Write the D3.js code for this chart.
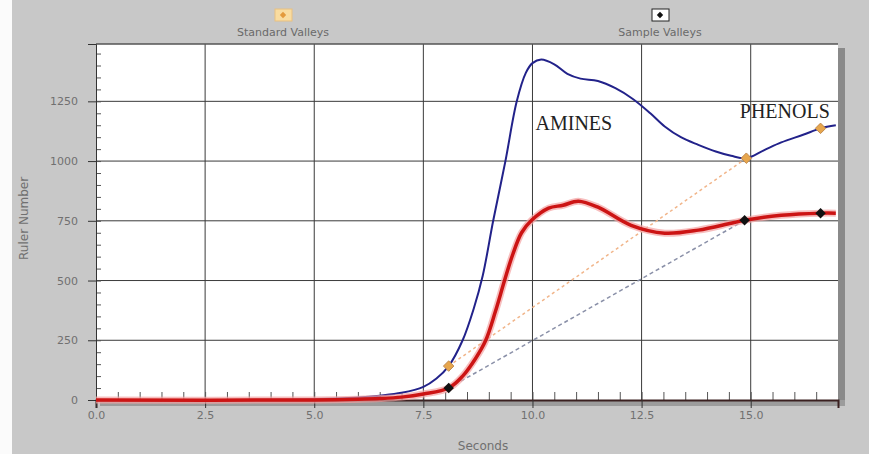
<!DOCTYPE html>
<html>
<head>
<meta charset="utf-8">
<script src="https://cdn.jsdelivr.net/npm/d3@7"></script>
<style>
  body { margin: 0; background: #c8c8c8; }
  svg { display: block; }
</style>
</head>
<body>
<svg class="chart"></svg>
<script>
/*
Two valley traces
*/
var stdSeconds = [0, 2.5, 4.5, 5.5, 6.0, 6.5, 7.0, 7.5, 7.8, 8.08, 8.4, 8.65, 8.86, 9.1, 9.38, 9.64, 9.85, 10.0, 10.2, 10.5, 10.8, 11.1, 11.5, 11.9, 12.3, 12.7, 13.03, 13.4, 13.8, 14.2, 14.55, 14.9, 15.3, 15.7, 16.2, 16.6, 16.95];
var stdValues  = [0, 0, 2, 6, 10, 18, 30, 55, 90, 142, 250, 380, 520, 750, 1000, 1250, 1370, 1410, 1425, 1405, 1365, 1345, 1335, 1305, 1260, 1200, 1145, 1100, 1068, 1040, 1022, 1012, 1045, 1078, 1110, 1137, 1150];

var smpSeconds = [0, 5.0, 6.0, 6.5, 7.0, 7.5, 8.08, 8.4, 8.7, 8.93, 9.15, 9.36, 9.55, 9.75, 9.98, 10.37, 10.7, 11.05, 11.5, 12.26, 13.03, 13.8, 14.55, 14.86, 15.7, 16.6, 16.95];
var smpValues  = [0, 0, 3, 6, 12, 25, 50, 100, 175, 250, 370, 500, 610, 700, 752, 803, 815, 832, 807, 731, 698, 711, 740, 752, 773, 782, 782];

var stdValleySeconds = [8.08, 14.9, 16.6];
var stdValleyValues  = [142, 1012, 1137];
var smpValleySeconds = [8.08, 14.86, 16.6];
var smpValleyValues  = [50, 752, 782];

var xTicks = [0, 2.5, 5, 7.5, 10, 12.5, 15];
var xTickLabels = ["0.0", "2.5", "5.0", "7.5", "10.0", "12.5", "15.0"];
var yTicks = [0, 250, 500, 750, 1000, 1250];

var legendNames = ["Standard Valleys", "Sample Valleys"];
var peakNames = ["AMINES", "PHENOLS"];
var peakSeconds = [10.07, 14.75];
var peakValues = [1129, 1179];

var width = 869, height = 454;
var margin = {top: 44, right: 31, bottom: 54, left: 96};

var chart = d3.select('.chart')
  .attr("width", width)
  .attr("height", height);

var x = d3.scaleLinear()
  .domain([0, 17])
  .range([margin.left, width - margin.right]);

var y = d3.scaleLinear()
  .domain([0, 1490])
  .range([height - margin.bottom, margin.top]);

var plotBottom = height - margin.bottom;
var plotRight = width - margin.right;

// white strip at the far left of the screenshot
chart.append("rect")
  .attr("x", 0).attr("y", 0).attr("width", 12).attr("height", height)
  .attr("fill", "#fbfbfb");

// frame shadow (right + bottom)
chart.append("rect")
  .attr("x", plotRight).attr("y", margin.top + 4)
  .attr("width", 7).attr("height", plotBottom - margin.top + 2)
  .attr("fill", "#8a8a8a");
chart.append("rect")
  .attr("x", margin.left + 4).attr("y", plotBottom)
  .attr("width", plotRight - margin.left + 3).attr("height", 6)
  .attr("fill", "#9c9c9c");

chart.append("rect")
  .attr("x", margin.left).attr("y", margin.top)
  .attr("width", plotRight - margin.left)
  .attr("height", plotBottom - margin.top)
  .attr("fill", "#fff");

// grid
chart.append("g")
  .selectAll("line")
  .data(xTicks.slice(1))
  .enter().append("line")
  .attr("x1", function(d) { return x(d); })
  .attr("x2", function(d) { return x(d); })
  .attr("y1", margin.top)
  .attr("y2", plotBottom)
  .attr("stroke", "#3a3a3a");

chart.append("g")
  .selectAll("line")
  .data(yTicks.slice(1))
  .enter().append("line")
  .attr("x1", margin.left)
  .attr("x2", plotRight)
  .attr("y1", function(d) { return y(d); })
  .attr("y2", function(d) { return y(d); })
  .attr("stroke", "#3a3a3a");

chart.append("line")
  .attr("x1", margin.left).attr("x2", plotRight)
  .attr("y1", margin.top).attr("y2", margin.top)
  .attr("stroke", "#555").attr("stroke-width", 1.5);

// minor ticks, drawn inwards
chart.append("g")
  .attr("transform", "translate(0," + plotBottom + ")")
  .call(d3.axisBottom(x).tickValues(d3.range(0, 17, 0.5)).tickSize(-8).tickFormat(""))
  .call(function(g) {
    g.select(".domain").remove();
    g.selectAll(".tick line").attr("stroke", "#555");
  });

chart.append("g")
  .attr("transform", "translate(" + margin.left + ",0)")
  .call(d3.axisLeft(y).tickValues(d3.range(0, 1490, 50)).tickSize(-5).tickFormat(""))
  .call(function(g) {
    g.select(".domain").remove();
    g.selectAll(".tick line").attr("stroke", "#555");
  });

// main axes
var leftAxis = d3.axisLeft(y).tickValues(yTicks).tickSize(8).tickPadding(10)
  .tickFormat(d3.format("d"));
var bottomAxis = d3.axisBottom(x).tickValues(xTicks).tickSize(8).tickPadding(3)
  .tickFormat(function(d, i) { return xTickLabels[i]; });

chart.append("g")
  .attr("transform", "translate(" + margin.left + ",0)")
  .call(customYAxis);

chart.append("g")
  .attr("transform", "translate(0," + plotBottom + ")")
  .call(customXAxis);

function customYAxis(g) {
  g.call(leftAxis);
  g.select(".domain").attr("stroke", "#333");
  g.selectAll(".tick line").attr("stroke", "#333");
  g.selectAll(".tick text")
    .attr("fill", "#707070")
    .style("font", "11px 'DejaVu Sans'");
}

function customXAxis(g) {
  g.call(bottomAxis);
  g.select(".domain").attr("stroke", "#3a2020").attr("stroke-width", 2);
  g.selectAll(".tick line").attr("stroke", "#333");
  g.selectAll(".tick text")
    .attr("fill", "#707070")
    .style("font", "11px 'DejaVu Sans'");
}

// axis titles
chart.append("text")
  .attr("x", (margin.left + plotRight) / 2 + 16)
  .attr("y", 450)
  .attr("text-anchor", "middle")
  .attr("fill", "#707070")
  .style("font", "12px 'DejaVu Sans'")
  .text("Seconds");

chart.append("text")
  .attr("transform", "translate(28," + y(760) + ") rotate(-90)")
  .attr("text-anchor", "middle")
  .attr("fill", "#707070")
  .style("font", "12px 'DejaVu Sans'")
  .text("Ruler Number");

// valley connectors
chart.append("line")
  .attr("x1", x(stdValleySeconds[0])).attr("y1", y(stdValleyValues[0]))
  .attr("x2", x(stdValleySeconds[1])).attr("y2", y(stdValleyValues[1]))
  .attr("stroke", "#f1b58a").attr("stroke-width", 1.5)
  .attr("stroke-dasharray", "3,3");

chart.append("line")
  .attr("x1", x(smpValleySeconds[0])).attr("y1", y(smpValleyValues[0]))
  .attr("x2", x(smpValleySeconds[1])).attr("y2", y(smpValleyValues[1]))
  .attr("stroke", "#8a90a8").attr("stroke-width", 1.5)
  .attr("stroke-dasharray", "4,3");

var line = d3.line()
  .x(function(d) { return x(d[0]); })
  .y(function(d) { return y(d[1]); })
  .curve(d3.curveCatmullRom.alpha(0.5));

var stdData = d3.zip(stdSeconds, stdValues);
var smpData = d3.zip(smpSeconds, smpValues);

chart.append("path")
  .attr("d", line(stdData))
  .attr("fill", "none")
  .attr("stroke", "#22228a")
  .attr("stroke-width", 2);

chart.append("path")
  .attr("d", line(smpData))
  .attr("fill", "none")
  .attr("stroke", "#f4a3a3")
  .attr("stroke-opacity", 0.7)
  .attr("stroke-width", 7);

chart.append("path")
  .attr("d", line(smpData))
  .attr("fill", "none")
  .attr("stroke", "#cc1414")
  .attr("stroke-width", 3.5);

var diamond = d3.symbol().type(d3.symbolDiamond2).size(70);

chart.append("g")
  .selectAll("path")
  .data(d3.zip(stdValleySeconds, stdValleyValues))
  .enter().append("path")
  .attr("d", diamond)
  .attr("transform", function(d) { return "translate(" + x(d[0]) + "," + y(d[1]) + ")"; })
  .attr("fill", "#e7a64c")
  .attr("stroke", "#c08a50");

chart.append("g")
  .selectAll("path")
  .data(d3.zip(smpValleySeconds, smpValleyValues))
  .enter().append("path")
  .attr("d", diamond)
  .attr("transform", function(d) { return "translate(" + x(d[0]) + "," + y(d[1]) + ")"; })
  .attr("fill", "#111");

// peak names
chart.append("g")
  .selectAll("text")
  .data(peakNames)
  .enter().append("text")
  .attr("x", function(d, i) { return x(peakSeconds[i]); })
  .attr("y", function(d, i) { return y(peakValues[i]); })
  .attr("fill", "#222")
  .style("font", "20px 'Liberation Serif'")
  .text(function(d) { return d; });

// legend on top
var legendX = [283, 660];
var legend = chart.append("g")
  .selectAll("g")
  .data(legendNames)
  .enter().append("g")
  .attr("transform", function(d, i) { return "translate(" + legendX[i] + ",0)"; });

legend.append("rect")
  .attr("x", -8).attr("y", 9)
  .attr("width", 17).attr("height", 12)
  .attr("fill", function(d, i) { return i == 0 ? "#f9dca0" : "#fff"; })
  .attr("stroke", function(d, i) { return i == 0 ? "#e8c080" : "#222"; });

legend.append("path")
  .attr("d", d3.symbol().type(d3.symbolDiamond2).size(26))
  .attr("transform", "translate(0,15)")
  .attr("fill", function(d, i) { return i == 0 ? "#e39a3c" : "#111"; });

legend.append("text")
  .attr("y", 36)
  .attr("text-anchor", "middle")
  .attr("fill", "#6a6a6a")
  .style("font", "11px 'DejaVu Sans'")
  .text(function(d) { return d; });
</script>
</body>
</html>
